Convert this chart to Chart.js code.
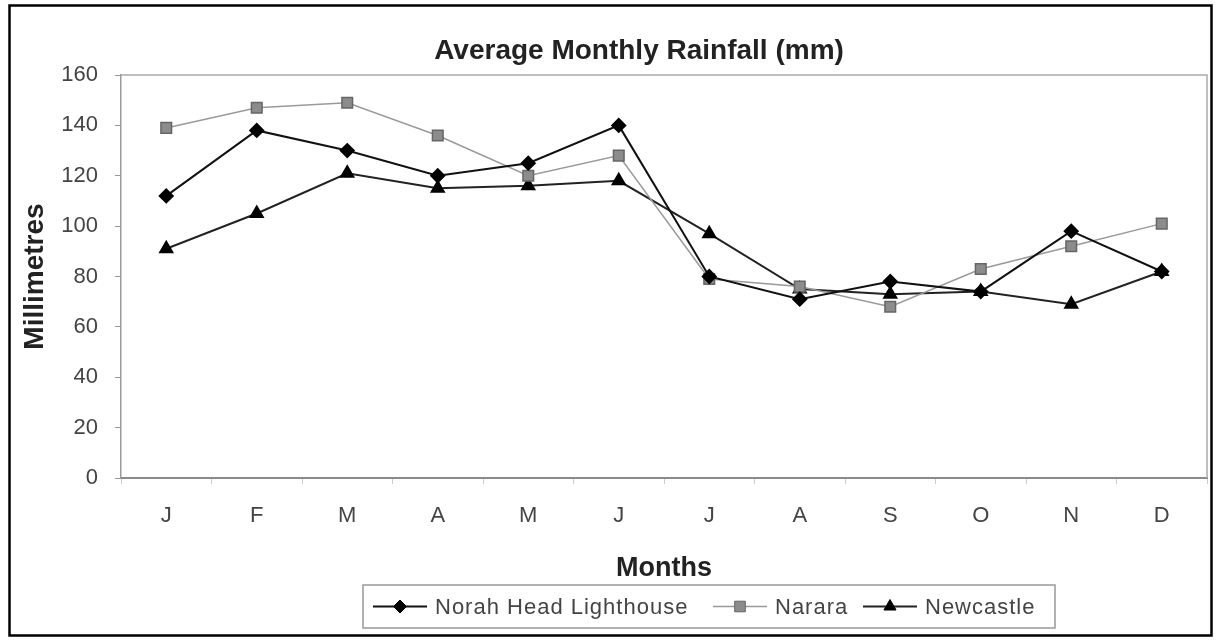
<!DOCTYPE html>
<html>
<head>
<meta charset="utf-8">
<title>Average Monthly Rainfall (mm)</title>
<script src="https://cdn.jsdelivr.net/npm/chart.js@4.4.1/dist/chart.umd.min.js"></script>
<style>
  html, body { margin: 0; padding: 0; background: #fff; }
  #wrap { width: 1219px; height: 641px; }
</style>
</head>
<body>
<div id="wrap"><canvas id="rainChart" width="1219" height="641"></canvas></div>
<script>
// months on the x axis
var months = ["J", "F", "M", "A", "M", "J", "J", "A", "S", "O", "N", "D"];

// average monthly rainfall, mm
var norahHead = [112, 138, 130, 120, 125, 140, 80, 71, 78, 74, 98, 82];
var narara    = [139, 147, 149, 136, 120, 128, 79, 76, 68, 83, 92, 101];
var newcastle = [91, 105, 121, 115, 116, 118, 97, 75, 73, 74, 69, 82];

var yTicks = [0, 20, 40, 60, 80, 100, 120, 140, 160];

var FONT = "'Liberation Sans', Arial, Helvetica, sans-serif";

// frame, title, plot border and the boxed legend
var decorPlugin = {
	id: 'decor',
	beforeDraw: function (chart) {
		var ctx = chart.ctx;
		ctx.save();
		ctx.fillStyle = '#fff';
		ctx.fillRect(0, 0, chart.width, chart.height);
		ctx.restore();
	},
	afterDraw: function (chart) {
		var ctx = chart.ctx;
		var area = chart.chartArea;
		ctx.save();

		// outer black frame
		ctx.strokeStyle = '#000';
		ctx.lineWidth = 2.5;
		ctx.strokeRect(9.5, 5.5, 1202, 630);

		// top + right edges of the plot area
		ctx.strokeStyle = '#aaa';
		ctx.lineWidth = 1.5;
		ctx.beginPath();
		ctx.moveTo(area.left, area.top);
		ctx.lineTo(area.right, area.top);
		ctx.lineTo(area.right, area.bottom);
		ctx.stroke();

		// title
		ctx.fillStyle = '#222';
		ctx.font = 'bold 28px ' + FONT;
		ctx.textAlign = 'center';
		ctx.textBaseline = 'middle';
		ctx.fillText('Average Monthly Rainfall (mm)', 639, 51);

		// legend box
		var box = {x: 363, y: 585, w: 692, h: 43};
		ctx.strokeStyle = '#999';
		ctx.lineWidth = 1.5;
		ctx.strokeRect(box.x, box.y, box.w, box.h);

		var starts = [373, 713, 863];
		var cy = box.y + box.h / 2;
		ctx.font = '22px ' + FONT;
		ctx.textAlign = 'left';
		if ('letterSpacing' in ctx) ctx.letterSpacing = '1px';
		chart.data.datasets.forEach(function (ds, i) {
			var x0 = starts[i];
			ctx.strokeStyle = ds.borderColor;
			ctx.lineWidth = ds.borderWidth;
			ctx.beginPath();
			ctx.moveTo(x0, cy);
			ctx.lineTo(x0 + 54, cy);
			ctx.stroke();
			ctx.fillStyle = ds.pointBackgroundColor;
			ctx.strokeStyle = ds.pointBorderColor;
			ctx.lineWidth = 1;
			Chart.helpers.drawPoint(ctx, {
				pointStyle: ds.pointStyle,
				radius: ds.pointRadius,
				rotation: 0,
				borderWidth: 1
			}, x0 + 27, cy);
			ctx.fillStyle = '#444';
			ctx.fillText(ds.label, x0 + 62, cy + 1);
		});

		ctx.restore();
	}
};

var data = {
	labels: months,
	datasets: [
		{
			label: "Norah Head Lighthouse",
			data: norahHead,
			borderColor: "#111",
			borderWidth: 2,
			pointStyle: 'rectRot',
			pointRadius: 6.5,
			pointBackgroundColor: "#000",
			pointBorderColor: "#000",
			tension: 0
		},
		{
			label: "Narara",
			data: narara,
			borderColor: "#9a9a9a",
			borderWidth: 1.5,
			pointStyle: 'rect',
			pointRadius: 7.5,
			pointBackgroundColor: "#8c8c8c",
			pointBorderColor: "#666",
			tension: 0
		},
		{
			label: "Newcastle",
			data: newcastle,
			borderColor: "#222",
			borderWidth: 2,
			pointStyle: 'triangle',
			pointRadius: 7,
			pointBackgroundColor: "#000",
			pointBorderColor: "#000",
			tension: 0
		}
	]
};

var options = {
	responsive: false,
	animation: false,
	devicePixelRatio: 1,
	layout: { padding: { top: 75, left: 0, right: 12, bottom: 0 } },
	plugins: {
		legend: { display: false },
		tooltip: { enabled: false },
		title: { display: false }
	},
	scales: {
		x: {
			type: 'category',
			offset: true,
			afterFit: function (scale) { scale.height = 163; },
			grid: { offset: true, drawOnChartArea: false, drawTicks: true, tickLength: 6, color: '#ccc' },
			border: { display: true, color: '#8a8a8a', width: 2 },
			ticks: { color: '#444', padding: 19, font: { family: FONT, size: 22 } },
			title: {
				display: true,
				text: 'Months',
				color: '#222',
				font: { family: FONT, size: 27, weight: 'bold' },
				padding: { top: 0, bottom: 56 }
			}
		},
		y: {
			min: 0,
			max: 160,
			afterFit: function (scale) { scale.width = 121; },
			afterBuildTicks: function (scale) {
				scale.ticks = yTicks.map(function (v) { return { value: v }; });
			},
			grid: { drawOnChartArea: false, drawTicks: true, tickLength: 6, color: '#999' },
			border: { display: true, color: '#9a9a9a', width: 1.5 },
			ticks: { color: '#444', padding: 17, font: { family: FONT, size: 22 } },
			title: {
				display: true,
				text: 'Millimetres',
				color: '#222',
				font: { family: FONT, size: 28, weight: 'bold' },
				padding: { top: 18, bottom: 0 }
			}
		}
	}
};

var rainChart = new Chart(document.getElementById('rainChart'), {
	type: 'line',
	data: data,
	options: options,
	plugins: [decorPlugin]
});
</script>
</body>
</html>
